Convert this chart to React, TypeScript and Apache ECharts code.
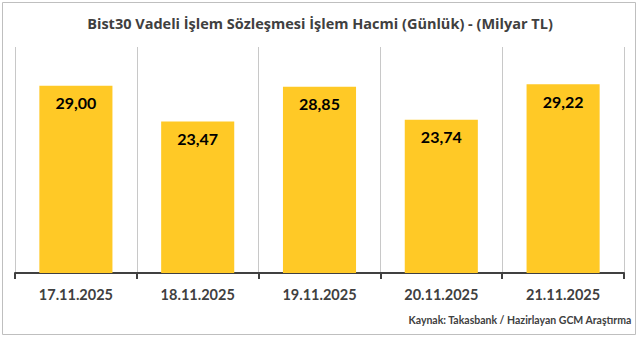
import React, { useEffect, useRef } from "react";
import * as echarts from "echarts";

const categories = ["17.11.2025", "18.11.2025", "19.11.2025", "20.11.2025", "21.11.2025"];
const values = [29.0, 23.47, 28.85, 23.74, 29.22];
const titleText = "Bist30 Vadeli İşlem Sözleşmesi İşlem Hacmi (Günlük) - (Milyar TL)";
const sourceText = "Kaynak: Takasbank / Hazirlayan GCM Araştırma";

const FONT = "Lato, 'Open Sans', sans-serif";
const TITLE_FONT = "'Open Sans', Lato, sans-serif";

export default function App() {
  const ref = useRef<HTMLDivElement>(null);
  useEffect(() => {
    if (!ref.current) return;
    const chart = echarts.init(ref.current, undefined, { renderer: "svg" });
    chart.setOption({
      animation: false,
      backgroundColor: "#ffffff",
      title: {
        text: titleText,
        left: "center",
        top: 11,
        textStyle: { fontFamily: TITLE_FONT, fontSize: 14.5, fontWeight: "bold", color: "#404040" },
      },
      grid: { left: 15, right: 16, top: 47, bottom: 65 },
      xAxis: {
        type: "category",
        data: categories,
        boundaryGap: true,
        axisLine: { show: true, lineStyle: { color: "#404040", width: 2 } },
        axisTick: { show: true, alignWithLabel: false, length: 6, lineStyle: { color: "#404040", width: 2 } },
        splitLine: { show: true, lineStyle: { color: "#C8C8C8", width: 1 } },
        axisLabel: {
          fontFamily: FONT,
          fontSize: 14.5,
          fontWeight: "bold",
          color: "#404040",
          margin: 14,
        },
      },
      yAxis: {
        type: "value",
        min: 0,
        max: 35,
        show: false,
        splitLine: { show: false },
      },
      series: [
        {
          type: "bar",
          data: values,
          barCategoryGap: "40%",
          itemStyle: { color: "#FFC926" },
          label: {
            show: true,
            position: "insideTop",
            distance: 9,
            formatter: (p: any) => p.value.toFixed(2).replace(".", ","),
            fontFamily: FONT,
            fontSize: 16,
            fontWeight: "bold",
            color: "#000000",
          },
        },
      ],
      graphic: [
        {
          type: "rect",
          shape: { x: 2.5, y: 2.5, width: 633, height: 332 },
          style: { fill: "none", stroke: "#BFBFBF", lineWidth: 1 },
          silent: true,
        },
        {
          type: "text",
          right: 8,
          top: 314,
          style: {
            text: sourceText,
            fontFamily: FONT,
            fontSize: 10.5,
            fontWeight: "bold",
            fill: "#404040",
          },
        },
      ],
    });
    return () => chart.dispose();
  }, []);
  return <div ref={ref} style={{ position: "fixed", left: 0, top: 0, width: 640, height: 338 }} />;
}
